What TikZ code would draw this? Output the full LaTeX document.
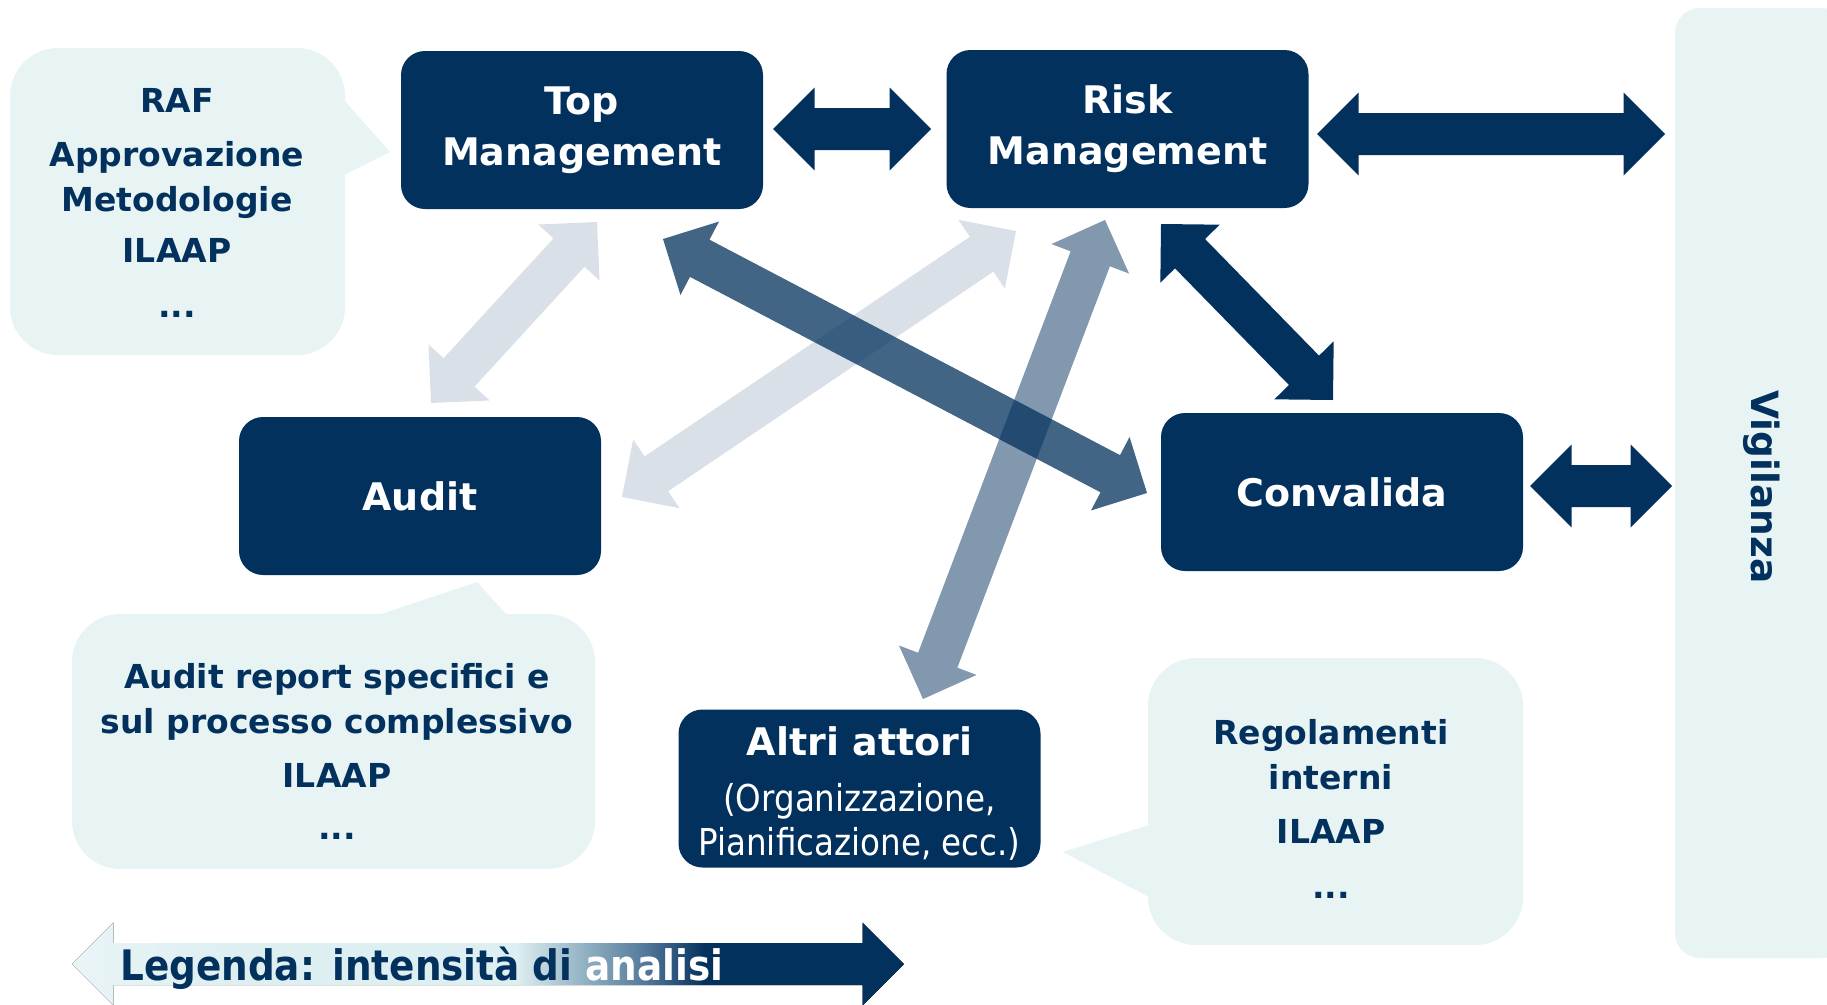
\documentclass[tikz,border=0pt]{standalone}
\usepackage{fontspec}
\setmainfont{DejaVu Sans}
\newfontfamily\narrowf{DejaVu Sans}[FakeStretch=0.88]
\usetikzlibrary{calc}
\definecolor{navy}{HTML}{03315E}
\definecolor{calloutc}{HTML}{E8F3F4}
\definecolor{legl}{HTML}{DDEFF1}
\definecolor{legll}{HTML}{E9F4F5}
\definecolor{legm}{HTML}{8FAFC2}
\definecolor{legmm}{HTML}{55799B}
\pgfdeclarehorizontalshading{legshade}{100bp}{color(0bp)=(legll); color(25bp)=(legll); color(35bp)=(legl); color(51.7bp)=(legl); color(55.9bp)=(legm); color(59.4bp)=(legmm); color(63bp)=(navy); color(100bp)=(navy)}
\def\ahl{41.5pt}
\def\ahw{41.5pt}
\def\asw{21pt}
\newcommand\blockarrow[3][]{%
  \fill[#1] (#2)
    -- ($(#2)!\ahl!(#3)!\ahw!90:(#3)$)
    -- ($(#2)!\ahl!(#3)!\asw!90:(#3)$)
    -- ($(#3)!\ahl!(#2)!\asw!-90:(#2)$)
    -- ($(#3)!\ahl!(#2)!\ahw!-90:(#2)$)
    -- (#3)
    -- ($(#3)!\ahl!(#2)!\ahw!90:(#2)$)
    -- ($(#3)!\ahl!(#2)!\asw!90:(#2)$)
    -- ($(#2)!\ahl!(#3)!\asw!-90:(#3)$)
    -- ($(#2)!\ahl!(#3)!\ahw!-90:(#3)$)
    -- cycle;}
\newcommand\subf{\narrowf\mdseries\fontsize{37}{44}\selectfont}
\tikzset{
  boxtext/.style={text=white, font=\fontsize{38}{51}\selectfont\bfseries, align=center, inner sep=0pt},
  box/.style={boxtext, fill=navy, rounded corners=24pt, minimum width=362pt, minimum height=158pt},
  callout/.style={fill=calloutc, rounded corners=48pt, inner sep=0pt},
  ctext/.style={text=navy, font=\fontsize{33}{45}\selectfont\bfseries, align=center, inner sep=0pt},
  light/.style={navy, fill opacity=0.15},
  medium/.style={navy, fill opacity=0.5},
  strong/.style={navy, fill opacity=0.75},
  full/.style={navy}
}
\begin{document}
\begin{tikzpicture}[x=1pt,y=-1pt]
\useasboundingbox (0,0) rectangle (1827,1004);

% callouts
\node[callout, minimum width=335pt, minimum height=307pt] (rafbg) at (177.5,201.5) {};
\fill[calloutc] (344,100) -- (390,152) -- (344,175) -- cycle;
\node[ctext] (raf) at (177,203) {RAF\\[9pt]Approvazione\\Metodologie\\[6pt]ILAAP\\[10pt]...};

\node[callout, minimum width=523pt, minimum height=255pt] (audbg) at (333.5,741.5) {};
\fill[calloutc] (378,615) -- (477,582) -- (507,615) -- cycle;
\node[ctext] (audtext) at (337,751.5) {Audit report specifici e\\sul processo complessivo\\[9pt]ILAAP\\[7pt]...};

\node[callout, minimum width=375pt, minimum height=287pt] (regbg) at (1335.5,801.5) {};
\fill[calloutc] (1149,825) -- (1063,852) -- (1149,897) -- cycle;
\node[ctext] (regtext) at (1331,809) {Regolamenti\\interni\\[9pt]ILAAP\\[10pt]...};

% Vigilanza
\begin{scope}
\clip (0,0) rectangle (1827,1004);
\node[callout, rounded corners=25pt, minimum width=173pt, minimum height=950pt, text=navy,
  font=\fontsize{37.5}{37.5}\selectfont\bfseries] (vig) at (1761.5,483) {\rotatebox{-90}{\hspace*{8pt}Vigilanza}};
\end{scope}

% main boxes
\node[box] (tm) at (582,130) {Top\\Management};
\node[box] (rm) at (1127.5,129) {Risk\\Management};
\node[box] (audit) at (420,496) {Audit};
\node[box] (conv) at (1342,492) {Convalida};
\node[box] (altri) at (859.5,788.5) {};
\node[boxtext] (altritext) at (859.5,793) {Altri attori\\[5pt]{\subf (Organizzazione,}\\[-7pt]{\subf Pianificazione, ecc.)}};

% connector end points
\coordinate (tmE) at (773,129);   \coordinate (rmW) at (931,129);
\coordinate (rmE) at (1317,134);  \coordinate (vigA) at (1665,134);
\coordinate (convE) at (1530,486); \coordinate (vigB) at (1672,486);
\coordinate (tmS) at (597,222);   \coordinate (audN) at (431,403);
\coordinate (rmSW) at (1016,231); \coordinate (audE) at (622,497);
\coordinate (tmSE) at (663,239);  \coordinate (convW) at (1147,493);
\coordinate (rmS) at (1105,220);  \coordinate (altriN) at (923,699);
\coordinate (rmSE) at (1161,224); \coordinate (convN) at (1333,400);
\coordinate (legL) at (72,964);   \coordinate (legR) at (904,964);

% arrows
\blockarrow[light]{tmS}{audN}
\blockarrow[light]{rmSW}{audE}
\blockarrow[medium]{rmS}{altriN}
\blockarrow[strong]{tmSE}{convW}
\blockarrow[full]{rmSE}{convN}
\blockarrow[full]{tmE}{rmW}
\blockarrow[full]{rmE}{vigA}
\blockarrow[full]{convE}{vigB}

% legend
\blockarrow[shade, shading=legshade]{legL}{legR}
\node[anchor=base west, inner sep=0pt, text=navy, font=\fontsize{42}{42}\selectfont\bfseries] (legend) at (120,980)
  {\scalebox{0.89}[1]{Legenda: intensità di \textcolor{white}{analisi}}};
\end{tikzpicture}
\end{document}
